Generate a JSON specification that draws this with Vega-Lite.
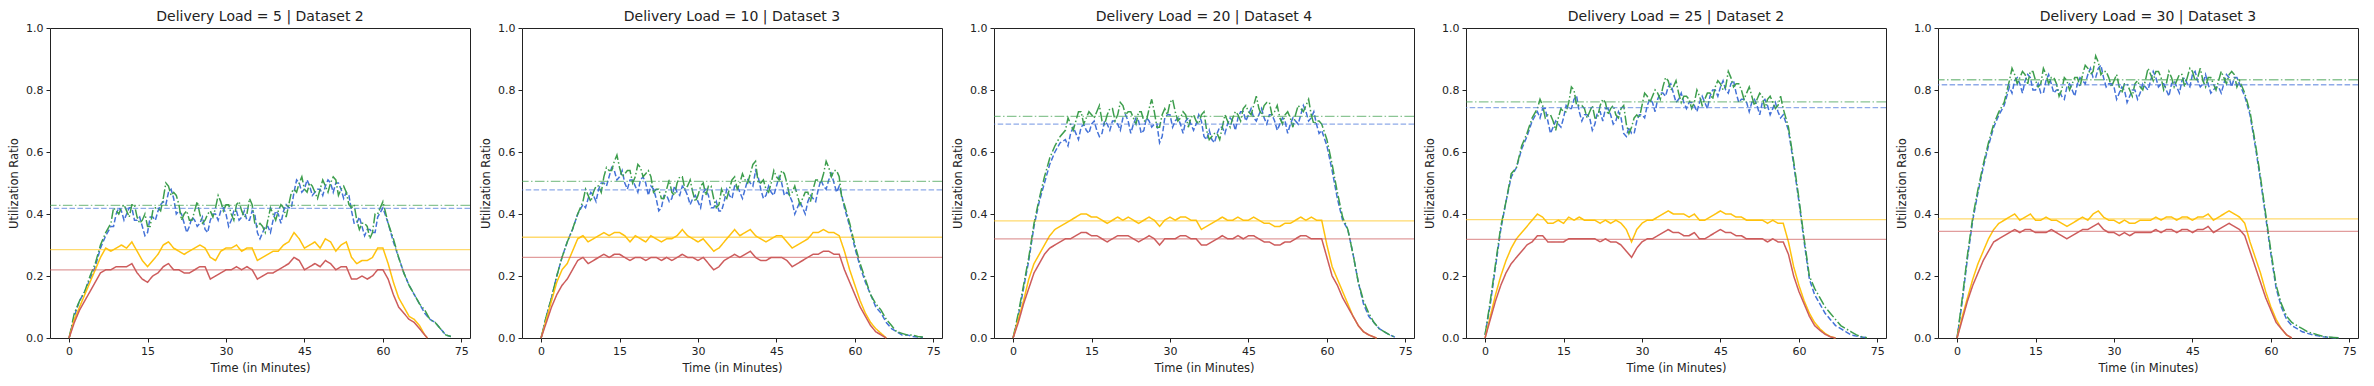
{
"$schema":"https://vega.github.io/schema/vega-lite/v6.json",
"background":"white",
"padding":{"left":8,"top":9,"right":0,"bottom":0},
"bounds":"flush",
"spacing":52,
"config":{
 "view":{"stroke":"#222","strokeWidth":1},
 "axis":{"domain":false,"grid":false,"tickColor":"#222","tickSize":4,"labelFont":"DejaVu Sans","labelFontSize":11,"labelColor":"#222","titleFont":"DejaVu Sans","titleFontSize":11.5,"titleFontWeight":"normal","titleColor":"#222","labelPadding":3,"labelFlush":false,"titlePadding":6},
 "title":{"font":"DejaVu Sans","fontSize":14,"fontWeight":"normal","color":"#222","offset":-2,"frame":"group"}
},
"datasets":{
"m1":[{"s":"b","v":0.418},{"s":"g","v":0.428},{"s":"y","v":0.285},{"s":"r","v":0.22}],
"m2":[{"s":"b","v":0.478},{"s":"g","v":0.505},{"s":"y","v":0.325},{"s":"r","v":0.26}],
"m3":[{"s":"b","v":0.69},{"s":"g","v":0.715},{"s":"y","v":0.378},{"s":"r","v":0.32}],
"m4":[{"s":"b","v":0.743},{"s":"g","v":0.762},{"s":"y","v":0.382},{"s":"r","v":0.318}],
"m5":[{"s":"b","v":0.817},{"s":"g","v":0.833},{"s":"y","v":0.384},{"s":"r","v":0.344}],
"p1":[
{"t":0,"b":0,"g":0,"y":0,"r":0},{"t":1,"b":0.07,"g":0.08,"y":0.06,"r":0.05},{"t":2,"b":0.12,"g":0.12,"y":0.10,"r":0.09},{"t":3,"b":0.15,"g":0.15,"y":0.14,"r":0.12},{"t":4,"b":0.19,"g":0.20,"y":0.18,"r":0.15},{"t":5,"b":0.23,"g":0.24,"y":0.22,"r":0.18},{"t":6,"b":0.29,"g":0.30,"y":0.26,"r":0.21},{"t":7,"b":0.33,"g":0.34,"y":0.29,"r":0.22},{"t":8,"b":0.36,"g":0.37,"y":0.28,"r":0.22},{"t":9,"b":0.40,"g":0.41,"y":0.29,"r":0.23},
{"t":10,"b":0.41,"g":0.42,"y":0.30,"r":0.23},{"t":11,"b":0.40,"g":0.41,"y":0.29,"r":0.23},{"t":12,"b":0.42,"g":0.43,"y":0.31,"r":0.24},{"t":13,"b":0.38,"g":0.39,"y":0.28,"r":0.21},{"t":14,"b":0.36,"g":0.38,"y":0.25,"r":0.19},{"t":15,"b":0.34,"g":0.36,"y":0.23,"r":0.18},{"t":16,"b":0.39,"g":0.41,"y":0.25,"r":0.20},{"t":17,"b":0.41,"g":0.42,"y":0.27,"r":0.21},{"t":18,"b":0.44,"g":0.45,"y":0.30,"r":0.23},{"t":19,"b":0.47,"g":0.49,"y":0.31,"r":0.24},
{"t":20,"b":0.45,"g":0.47,"y":0.29,"r":0.22},{"t":21,"b":0.41,"g":0.43,"y":0.28,"r":0.22},{"t":22,"b":0.37,"g":0.40,"y":0.27,"r":0.21},{"t":23,"b":0.36,"g":0.38,"y":0.28,"r":0.21},{"t":24,"b":0.38,"g":0.41,"y":0.29,"r":0.22},{"t":25,"b":0.37,"g":0.40,"y":0.30,"r":0.23},{"t":26,"b":0.35,"g":0.38,"y":0.29,"r":0.23},{"t":27,"b":0.38,"g":0.41,"y":0.26,"r":0.19},{"t":28,"b":0.40,"g":0.42,"y":0.25,"r":0.20},{"t":29,"b":0.41,"g":0.44,"y":0.28,"r":0.21},
{"t":30,"b":0.40,"g":0.43,"y":0.29,"r":0.22},{"t":31,"b":0.38,"g":0.40,"y":0.29,"r":0.22},{"t":32,"b":0.41,"g":0.43,"y":0.30,"r":0.23},{"t":33,"b":0.39,"g":0.41,"y":0.28,"r":0.22},{"t":34,"b":0.38,"g":0.40,"y":0.29,"r":0.23},{"t":35,"b":0.41,"g":0.43,"y":0.29,"r":0.22},{"t":36,"b":0.34,"g":0.36,"y":0.25,"r":0.19},{"t":37,"b":0.34,"g":0.36,"y":0.26,"r":0.20},{"t":38,"b":0.36,"g":0.38,"y":0.27,"r":0.21},{"t":39,"b":0.38,"g":0.40,"y":0.28,"r":0.21},
{"t":40,"b":0.40,"g":0.41,"y":0.28,"r":0.22},{"t":41,"b":0.41,"g":0.42,"y":0.30,"r":0.23},{"t":42,"b":0.42,"g":0.43,"y":0.31,"r":0.24},{"t":43,"b":0.47,"g":0.48,"y":0.34,"r":0.26},{"t":44,"b":0.50,"g":0.50,"y":0.32,"r":0.25},{"t":45,"b":0.48,"g":0.48,"y":0.29,"r":0.22},{"t":46,"b":0.49,"g":0.50,"y":0.30,"r":0.23},{"t":47,"b":0.47,"g":0.47,"y":0.31,"r":0.24},{"t":48,"b":0.48,"g":0.48,"y":0.29,"r":0.23},{"t":49,"b":0.49,"g":0.49,"y":0.32,"r":0.25},
{"t":50,"b":0.50,"g":0.50,"y":0.31,"r":0.24},{"t":51,"b":0.50,"g":0.51,"y":0.28,"r":0.22},{"t":52,"b":0.48,"g":0.48,"y":0.30,"r":0.23},{"t":53,"b":0.47,"g":0.47,"y":0.31,"r":0.23},{"t":54,"b":0.41,"g":0.42,"y":0.26,"r":0.19},{"t":55,"b":0.37,"g":0.38,"y":0.24,"r":0.19},{"t":56,"b":0.36,"g":0.37,"y":0.25,"r":0.20},{"t":57,"b":0.35,"g":0.36,"y":0.25,"r":0.19},{"t":58,"b":0.34,"g":0.34,"y":0.26,"r":0.20},{"t":59,"b":0.39,"g":0.40,"y":0.29,"r":0.22},
{"t":60,"b":0.42,"g":0.44,"y":0.29,"r":0.22},{"t":61,"b":0.37,"g":0.37,"y":0.24,"r":0.19},{"t":62,"b":0.31,"g":0.32,"y":0.18,"r":0.14},{"t":63,"b":0.26,"g":0.26,"y":0.13,"r":0.10},{"t":64,"b":0.21,"g":0.21,"y":0.10,"r":0.08},{"t":65,"b":0.17,"g":0.17,"y":0.07,"r":0.06},{"t":66,"b":0.14,"g":0.14,"y":0.06,"r":0.05},{"t":67,"b":0.11,"g":0.11,"y":0.04,"r":0.03},{"t":68,"b":0.08,"g":0.09,"y":0.01,"r":0.01},{"t":68.5,"y":0,"r":0},{"t":69,"b":0.06,"g":0.06},
{"t":70,"b":0.05,"g":0.05},{"t":71,"b":0.03,"g":0.03},{"t":72,"b":0.01,"g":0.01},{"t":73,"b":0.005,"g":0.005},
{"t":8.5,"b":0.36,"g":0.42},{"t":9.5,"b":0.42,"g":0.40},{"t":10.5,"b":0.38,"g":0.43},{"t":11.5,"b":0.42,"g":0.39},{"t":12.5,"b":0.38,"g":0.43},{"t":13.5,"b":0.39,"g":0.37},{"t":14.5,"b":0.33,"g":0.40},{"t":15.5,"b":0.39,"g":0.36},{"t":16.5,"b":0.38,"g":0.42},{"t":17.5,"b":0.43,"g":0.41},
{"t":18.5,"b":0.43,"g":0.50},{"t":19.5,"b":0.48,"g":0.46},{"t":20.5,"b":0.40,"g":0.46},{"t":21.5,"b":0.40,"g":0.38},{"t":22.5,"b":0.34,"g":0.41},{"t":23.5,"b":0.39,"g":0.38},{"t":24.5,"b":0.36,"g":0.44},{"t":25.5,"b":0.39,"g":0.37},{"t":26.5,"b":0.34,"g":0.40},{"t":27.5,"b":0.40,"g":0.39},
{"t":28.5,"b":0.38,"g":0.46},{"t":29.5,"b":0.42,"g":0.41},{"t":30.5,"b":0.36,"g":0.43},{"t":31.5,"b":0.41,"g":0.38},{"t":32.5,"b":0.38,"g":0.44},{"t":33.5,"b":0.41,"g":0.39},{"t":34.5,"b":0.38,"g":0.45},{"t":35.5,"b":0.40,"g":0.37},{"t":36.5,"b":0.32,"g":0.37},{"t":37.5,"b":0.36,"g":0.34},
{"t":38.5,"b":0.34,"g":0.42},{"t":39.5,"b":0.41,"g":0.38},{"t":40.5,"b":0.37,"g":0.43},{"t":41.5,"b":0.43,"g":0.39},{"t":42.5,"b":0.42,"g":0.47},{"t":43.5,"b":0.51,"g":0.47},{"t":44.5,"b":0.47,"g":0.52},{"t":45.5,"b":0.51,"g":0.47},{"t":46.5,"b":0.46,"g":0.49},{"t":47.5,"b":0.48,"g":0.45},
{"t":48.5,"b":0.46,"g":0.51},{"t":49.5,"b":0.51,"g":0.47},{"t":50.5,"b":0.47,"g":0.52},{"t":51.5,"b":0.50,"g":0.46},{"t":52.5,"b":0.45,"g":0.49},{"t":53.5,"b":0.46,"g":0.43},{"t":54.5,"b":0.37,"g":0.43},{"t":55.5,"b":0.39,"g":0.35},{"t":56.5,"b":0.33,"g":0.37},{"t":57.5,"b":0.35,"g":0.32},{"t":58.5,"b":0.34,"g":0.40}],
"p2":[
{"t":0,"b":0,"g":0,"y":0,"r":0},{"t":1,"b":0.07,"g":0.07,"y":0.06,"r":0.05},{"t":2,"b":0.13,"g":0.13,"y":0.12,"r":0.10},{"t":3,"b":0.20,"g":0.20,"y":0.18,"r":0.14},{"t":4,"b":0.26,"g":0.26,"y":0.22,"r":0.17},{"t":5,"b":0.31,"g":0.31,"y":0.24,"r":0.19},{"t":6,"b":0.35,"g":0.35,"y":0.28,"r":0.22},{"t":7,"b":0.40,"g":0.40,"y":0.32,"r":0.25},{"t":8,"b":0.43,"g":0.44,"y":0.33,"r":0.26},{"t":9,"b":0.45,"g":0.46,"y":0.31,"r":0.24},
{"t":10,"b":0.46,"g":0.47,"y":0.32,"r":0.25},{"t":11,"b":0.48,"g":0.49,"y":0.33,"r":0.26},{"t":12,"b":0.50,"g":0.52,"y":0.34,"r":0.27},{"t":13,"b":0.52,"g":0.54,"y":0.33,"r":0.26},{"t":14,"b":0.54,"g":0.57,"y":0.34,"r":0.27},{"t":15,"b":0.52,"g":0.55,"y":0.34,"r":0.27},{"t":16,"b":0.50,"g":0.53,"y":0.33,"r":0.26},{"t":17,"b":0.51,"g":0.54,"y":0.31,"r":0.25},{"t":18,"b":0.49,"g":0.52,"y":0.33,"r":0.26},{"t":19,"b":0.51,"g":0.55,"y":0.32,"r":0.26},
{"t":20,"b":0.50,"g":0.53,"y":0.31,"r":0.25},{"t":21,"b":0.49,"g":0.52,"y":0.33,"r":0.26},{"t":22,"b":0.45,"g":0.48,"y":0.32,"r":0.26},{"t":23,"b":0.42,"g":0.45,"y":0.31,"r":0.25},{"t":24,"b":0.46,"g":0.48,"y":0.32,"r":0.26},{"t":25,"b":0.45,"g":0.47,"y":0.32,"r":0.25},{"t":26,"b":0.47,"g":0.50,"y":0.33,"r":0.26},{"t":27,"b":0.49,"g":0.52,"y":0.35,"r":0.27},{"t":28,"b":0.46,"g":0.49,"y":0.33,"r":0.26},{"t":29,"b":0.45,"g":0.47,"y":0.32,"r":0.26},
{"t":30,"b":0.44,"g":0.46,"y":0.31,"r":0.25},{"t":31,"b":0.47,"g":0.50,"y":0.32,"r":0.26},{"t":32,"b":0.46,"g":0.49,"y":0.30,"r":0.24},{"t":33,"b":0.42,"g":0.45,"y":0.28,"r":0.22},{"t":34,"b":0.41,"g":0.43,"y":0.29,"r":0.23},{"t":35,"b":0.44,"g":0.46,"y":0.31,"r":0.25},{"t":36,"b":0.46,"g":0.48,"y":0.33,"r":0.26},{"t":37,"b":0.49,"g":0.52,"y":0.35,"r":0.27},{"t":38,"b":0.47,"g":0.50,"y":0.33,"r":0.26},{"t":39,"b":0.48,"g":0.51,"y":0.34,"r":0.27},
{"t":40,"b":0.50,"g":0.53,"y":0.35,"r":0.28},{"t":41,"b":0.54,"g":0.57,"y":0.33,"r":0.26},{"t":42,"b":0.48,"g":0.50,"y":0.32,"r":0.25},{"t":43,"b":0.46,"g":0.48,"y":0.31,"r":0.25},{"t":44,"b":0.47,"g":0.50,"y":0.32,"r":0.26},{"t":45,"b":0.49,"g":0.52,"y":0.33,"r":0.26},{"t":46,"b":0.50,"g":0.54,"y":0.33,"r":0.26},{"t":47,"b":0.47,"g":0.50,"y":0.31,"r":0.25},{"t":48,"b":0.44,"g":0.47,"y":0.29,"r":0.23},{"t":49,"b":0.42,"g":0.46,"y":0.30,"r":0.24},
{"t":50,"b":0.42,"g":0.45,"y":0.31,"r":0.25},{"t":51,"b":0.44,"g":0.47,"y":0.32,"r":0.26},{"t":52,"b":0.45,"g":0.48,"y":0.34,"r":0.27},{"t":53,"b":0.48,"g":0.51,"y":0.34,"r":0.27},{"t":54,"b":0.49,"g":0.53,"y":0.35,"r":0.28},{"t":55,"b":0.51,"g":0.55,"y":0.34,"r":0.28},{"t":56,"b":0.50,"g":0.54,"y":0.34,"r":0.27},{"t":57,"b":0.49,"g":0.52,"y":0.33,"r":0.27},{"t":58,"b":0.42,"g":0.43,"y":0.28,"r":0.22},{"t":59,"b":0.36,"g":0.37,"y":0.22,"r":0.18},
{"t":60,"b":0.29,"g":0.30,"y":0.17,"r":0.14},{"t":61,"b":0.23,"g":0.24,"y":0.12,"r":0.10},{"t":62,"b":0.18,"g":0.19,"y":0.08,"r":0.07},{"t":63,"b":0.14,"g":0.14,"y":0.05,"r":0.04},{"t":64,"b":0.10,"g":0.11,"y":0.03,"r":0.02},{"t":65,"b":0.08,"g":0.09,"y":0.015,"r":0.01},{"t":66,"b":0.05,"g":0.06,"y":0,"r":0},{"t":67,"b":0.03,"g":0.04},{"t":68,"b":0.02,"g":0.02},{"t":69,"b":0.01,"g":0.015},
{"t":70,"b":0.01,"g":0.01},{"t":71,"b":0.005,"g":0.01},{"t":72,"b":0.003,"g":0.005},{"t":73,"b":0.002,"g":0.003},
{"t":8.5,"b":0.42,"g":0.48},{"t":9.5,"b":0.47,"g":0.44},{"t":10.5,"b":0.44,"g":0.49},{"t":11.5,"b":0.50,"g":0.47},{"t":12.5,"b":0.49,"g":0.55},{"t":13.5,"b":0.55,"g":0.54},{"t":14.5,"b":0.51,"g":0.59},{"t":15.5,"b":0.54,"g":0.52},{"t":16.5,"b":0.48,"g":0.54},{"t":17.5,"b":0.51,"g":0.50},
{"t":18.5,"b":0.47,"g":0.56},{"t":19.5,"b":0.52,"g":0.52},{"t":20.5,"b":0.46,"g":0.54},{"t":21.5,"b":0.48,"g":0.47},{"t":22.5,"b":0.41,"g":0.48},{"t":23.5,"b":0.46,"g":0.45},{"t":24.5,"b":0.44,"g":0.51},{"t":25.5,"b":0.49,"g":0.46},{"t":26.5,"b":0.46,"g":0.52},{"t":27.5,"b":0.48,"g":0.48},
{"t":28.5,"b":0.43,"g":0.51},{"t":29.5,"b":0.46,"g":0.44},{"t":30.5,"b":0.42,"g":0.49},{"t":31.5,"b":0.48,"g":0.46},{"t":32.5,"b":0.42,"g":0.49},{"t":33.5,"b":0.44,"g":0.42},{"t":34.5,"b":0.41,"g":0.48},{"t":35.5,"b":0.48,"g":0.45},{"t":36.5,"b":0.45,"g":0.51},{"t":37.5,"b":0.49,"g":0.48},
{"t":38.5,"b":0.45,"g":0.53},{"t":39.5,"b":0.51,"g":0.50},{"t":40.5,"b":0.49,"g":0.56},{"t":41.5,"b":0.52,"g":0.50},{"t":42.5,"b":0.45,"g":0.51},{"t":43.5,"b":0.49,"g":0.47},{"t":44.5,"b":0.46,"g":0.54},{"t":45.5,"b":0.52,"g":0.51},{"t":46.5,"b":0.46,"g":0.53},{"t":47.5,"b":0.46,"g":0.46},
{"t":48.5,"b":0.40,"g":0.49},{"t":49.5,"b":0.44,"g":0.43},{"t":50.5,"b":0.40,"g":0.47},{"t":51.5,"b":0.46,"g":0.44},{"t":52.5,"b":0.44,"g":0.51},{"t":53.5,"b":0.51,"g":0.50},{"t":54.5,"b":0.48,"g":0.57},{"t":55.5,"b":0.53,"g":0.52},{"t":56.5,"b":0.47,"g":0.54},{"t":57.5,"b":0.46,"g":0.45}],
"p3":[
{"t":0,"b":0,"g":0,"y":0,"r":0},{"t":1,"b":0.07,"g":0.08,"y":0.06,"r":0.05},{"t":2,"b":0.16,"g":0.17,"y":0.12,"r":0.11},{"t":3,"b":0.25,"g":0.26,"y":0.19,"r":0.16},{"t":4,"b":0.36,"g":0.37,"y":0.24,"r":0.21},{"t":5,"b":0.44,"g":0.45,"y":0.27,"r":0.24},{"t":6,"b":0.50,"g":0.52,"y":0.30,"r":0.27},{"t":7,"b":0.56,"g":0.58,"y":0.33,"r":0.29},{"t":8,"b":0.60,"g":0.62,"y":0.35,"r":0.30},{"t":9,"b":0.63,"g":0.65,"y":0.36,"r":0.31},
{"t":10,"b":0.64,"g":0.67,"y":0.37,"r":0.32},{"t":11,"b":0.66,"g":0.69,"y":0.38,"r":0.32},{"t":12,"b":0.66,"g":0.70,"y":0.39,"r":0.33},{"t":13,"b":0.68,"g":0.73,"y":0.40,"r":0.34},{"t":14,"b":0.67,"g":0.71,"y":0.40,"r":0.34},{"t":15,"b":0.69,"g":0.72,"y":0.39,"r":0.33},{"t":16,"b":0.67,"g":0.73,"y":0.39,"r":0.33},{"t":17,"b":0.66,"g":0.70,"y":0.38,"r":0.32},{"t":18,"b":0.69,"g":0.72,"y":0.37,"r":0.31},{"t":19,"b":0.70,"g":0.74,"y":0.38,"r":0.32},
{"t":20,"b":0.69,"g":0.72,"y":0.39,"r":0.33},{"t":21,"b":0.71,"g":0.75,"y":0.38,"r":0.33},{"t":22,"b":0.70,"g":0.73,"y":0.39,"r":0.33},{"t":23,"b":0.69,"g":0.71,"y":0.38,"r":0.32},{"t":24,"b":0.70,"g":0.73,"y":0.37,"r":0.31},{"t":25,"b":0.67,"g":0.70,"y":0.38,"r":0.32},{"t":26,"b":0.70,"g":0.74,"y":0.39,"r":0.33},{"t":27,"b":0.69,"g":0.73,"y":0.38,"r":0.32},{"t":28,"b":0.63,"g":0.68,"y":0.36,"r":0.30},{"t":29,"b":0.71,"g":0.74,"y":0.38,"r":0.32},
{"t":30,"b":0.72,"g":0.76,"y":0.39,"r":0.32},{"t":31,"b":0.70,"g":0.73,"y":0.38,"r":0.32},{"t":32,"b":0.69,"g":0.71,"y":0.39,"r":0.33},{"t":33,"b":0.70,"g":0.72,"y":0.39,"r":0.33},{"t":34,"b":0.69,"g":0.71,"y":0.38,"r":0.32},{"t":35,"b":0.69,"g":0.70,"y":0.38,"r":0.32},{"t":36,"b":0.70,"g":0.72,"y":0.35,"r":0.30},{"t":37,"b":0.64,"g":0.67,"y":0.36,"r":0.30},{"t":38,"b":0.64,"g":0.65,"y":0.37,"r":0.31},{"t":39,"b":0.66,"g":0.66,"y":0.38,"r":0.32},
{"t":40,"b":0.68,"g":0.68,"y":0.39,"r":0.33},{"t":41,"b":0.69,"g":0.70,"y":0.38,"r":0.32},{"t":42,"b":0.70,"g":0.71,"y":0.38,"r":0.32},{"t":43,"b":0.71,"g":0.72,"y":0.39,"r":0.33},{"t":44,"b":0.73,"g":0.74,"y":0.38,"r":0.32},{"t":45,"b":0.72,"g":0.73,"y":0.38,"r":0.33},{"t":46,"b":0.71,"g":0.75,"y":0.39,"r":0.33},{"t":47,"b":0.72,"g":0.74,"y":0.38,"r":0.32},{"t":48,"b":0.71,"g":0.75,"y":0.37,"r":0.31},{"t":49,"b":0.72,"g":0.76,"y":0.37,"r":0.31},
{"t":50,"b":0.70,"g":0.73,"y":0.36,"r":0.30},{"t":51,"b":0.69,"g":0.71,"y":0.36,"r":0.30},{"t":52,"b":0.70,"g":0.72,"y":0.37,"r":0.31},{"t":53,"b":0.69,"g":0.71,"y":0.37,"r":0.31},{"t":54,"b":0.70,"g":0.72,"y":0.38,"r":0.32},{"t":55,"b":0.72,"g":0.74,"y":0.39,"r":0.33},{"t":56,"b":0.73,"g":0.75,"y":0.38,"r":0.33},{"t":57,"b":0.71,"g":0.72,"y":0.39,"r":0.32},{"t":58,"b":0.69,"g":0.70,"y":0.38,"r":0.32},{"t":59,"b":0.67,"g":0.69,"y":0.38,"r":0.32},
{"t":60,"b":0.62,"g":0.64,"y":0.30,"r":0.26},{"t":61,"b":0.54,"g":0.56,"y":0.23,"r":0.20},{"t":62,"b":0.45,"g":0.47,"y":0.19,"r":0.17},{"t":63,"b":0.38,"g":0.39,"y":0.15,"r":0.13},{"t":64,"b":0.35,"g":0.35,"y":0.11,"r":0.10},{"t":65,"b":0.27,"g":0.27,"y":0.07,"r":0.07},{"t":66,"b":0.18,"g":0.18,"y":0.04,"r":0.04},{"t":67,"b":0.11,"g":0.12,"y":0.02,"r":0.02},{"t":68,"b":0.07,"g":0.08,"y":0.01,"r":0.01},{"t":69,"b":0.05,"g":0.05,"y":0.003,"r":0.003},{"t":69.5,"y":0,"r":0},
{"t":70,"b":0.03,"g":0.03},{"t":71,"b":0.02,"g":0.02},{"t":72,"b":0.01,"g":0.01},{"t":73,"b":0.003,"g":0.003},
{"t":10.5,"b":0.62,"g":0.71},{"t":11.5,"b":0.68,"g":0.67},{"t":12.5,"b":0.64,"g":0.73},{"t":13.5,"b":0.69,"g":0.69},{"t":14.5,"b":0.66,"g":0.73},{"t":15.5,"b":0.70,"g":0.71},{"t":16.5,"b":0.65,"g":0.75},{"t":17.5,"b":0.70,"g":0.69},{"t":18.5,"b":0.67,"g":0.74},{"t":19.5,"b":0.70,"g":0.70},
{"t":20.5,"b":0.67,"g":0.76},{"t":21.5,"b":0.72,"g":0.72},{"t":22.5,"b":0.66,"g":0.73},{"t":23.5,"b":0.71,"g":0.69},{"t":24.5,"b":0.66,"g":0.73},{"t":25.5,"b":0.71,"g":0.70},{"t":26.5,"b":0.68,"g":0.77},{"t":27.5,"b":0.69,"g":0.68},{"t":28.5,"b":0.65,"g":0.72},{"t":29.5,"b":0.72,"g":0.72},
{"t":30.5,"b":0.68,"g":0.77},{"t":31.5,"b":0.71,"g":0.70},{"t":32.5,"b":0.66,"g":0.73},{"t":33.5,"b":0.71,"g":0.68},{"t":34.5,"b":0.67,"g":0.72},{"t":35.5,"b":0.72,"g":0.69},{"t":36.5,"b":0.65,"g":0.73},{"t":37.5,"b":0.67,"g":0.64},{"t":38.5,"b":0.63,"g":0.66},{"t":39.5,"b":0.68,"g":0.64},
{"t":40.5,"b":0.66,"g":0.72},{"t":41.5,"b":0.71,"g":0.68},{"t":42.5,"b":0.67,"g":0.73},{"t":43.5,"b":0.73,"g":0.70},{"t":44.5,"b":0.70,"g":0.75},{"t":45.5,"b":0.74,"g":0.72},{"t":46.5,"b":0.70,"g":0.78},{"t":47.5,"b":0.74,"g":0.72},{"t":48.5,"b":0.69,"g":0.76},{"t":49.5,"b":0.72,"g":0.72},
{"t":50.5,"b":0.67,"g":0.75},{"t":51.5,"b":0.71,"g":0.69},{"t":52.5,"b":0.66,"g":0.73},{"t":53.5,"b":0.71,"g":0.68},{"t":54.5,"b":0.69,"g":0.75},{"t":55.5,"b":0.75,"g":0.73},{"t":56.5,"b":0.70,"g":0.77},{"t":57.5,"b":0.73,"g":0.69},{"t":58.5,"b":0.66,"g":0.70}],
"p4":[
{"t":0,"b":0.01,"g":0.01,"y":0,"r":0},{"t":1,"b":0.11,"g":0.12,"y":0.07,"r":0.06},{"t":2,"b":0.23,"g":0.24,"y":0.14,"r":0.12},{"t":3,"b":0.35,"g":0.36,"y":0.20,"r":0.17},{"t":4,"b":0.44,"g":0.44,"y":0.25,"r":0.21},{"t":5,"b":0.52,"g":0.53,"y":0.29,"r":0.24},{"t":6,"b":0.55,"g":0.55,"y":0.32,"r":0.26},{"t":7,"b":0.61,"g":0.62,"y":0.34,"r":0.28},{"t":8,"b":0.65,"g":0.66,"y":0.36,"r":0.30},{"t":9,"b":0.70,"g":0.71,"y":0.38,"r":0.31},
{"t":10,"b":0.73,"g":0.74,"y":0.40,"r":0.33},{"t":11,"b":0.74,"g":0.75,"y":0.39,"r":0.33},{"t":12,"b":0.70,"g":0.72,"y":0.37,"r":0.31},{"t":13,"b":0.68,"g":0.70,"y":0.37,"r":0.31},{"t":14,"b":0.69,"g":0.71,"y":0.38,"r":0.31},{"t":15,"b":0.71,"g":0.73,"y":0.37,"r":0.31},{"t":16,"b":0.74,"g":0.76,"y":0.39,"r":0.32},{"t":17,"b":0.77,"g":0.80,"y":0.38,"r":0.32},{"t":18,"b":0.73,"g":0.75,"y":0.39,"r":0.32},{"t":19,"b":0.72,"g":0.74,"y":0.38,"r":0.32},
{"t":20,"b":0.71,"g":0.73,"y":0.38,"r":0.32},{"t":21,"b":0.69,"g":0.71,"y":0.38,"r":0.32},{"t":22,"b":0.73,"g":0.75,"y":0.37,"r":0.31},{"t":23,"b":0.74,"g":0.76,"y":0.38,"r":0.32},{"t":24,"b":0.72,"g":0.74,"y":0.37,"r":0.31},{"t":25,"b":0.70,"g":0.72,"y":0.38,"r":0.31},{"t":26,"b":0.71,"g":0.74,"y":0.37,"r":0.30},{"t":27,"b":0.65,"g":0.69,"y":0.35,"r":0.28},{"t":28,"b":0.66,"g":0.68,"y":0.31,"r":0.26},{"t":29,"b":0.70,"g":0.72,"y":0.35,"r":0.29},
{"t":30,"b":0.72,"g":0.75,"y":0.37,"r":0.31},{"t":31,"b":0.75,"g":0.78,"y":0.38,"r":0.32},{"t":32,"b":0.76,"g":0.78,"y":0.38,"r":0.32},{"t":33,"b":0.77,"g":0.79,"y":0.39,"r":0.33},{"t":34,"b":0.79,"g":0.81,"y":0.40,"r":0.34},{"t":35,"b":0.81,"g":0.83,"y":0.41,"r":0.35},{"t":36,"b":0.79,"g":0.81,"y":0.40,"r":0.34},{"t":37,"b":0.77,"g":0.79,"y":0.40,"r":0.34},{"t":38,"b":0.76,"g":0.78,"y":0.40,"r":0.33},{"t":39,"b":0.76,"g":0.77,"y":0.39,"r":0.33},
{"t":40,"b":0.75,"g":0.76,"y":0.40,"r":0.34},{"t":41,"b":0.76,"g":0.78,"y":0.38,"r":0.32},{"t":42,"b":0.76,"g":0.77,"y":0.38,"r":0.32},{"t":43,"b":0.78,"g":0.79,"y":0.39,"r":0.33},{"t":44,"b":0.80,"g":0.81,"y":0.40,"r":0.34},{"t":45,"b":0.81,"g":0.82,"y":0.41,"r":0.35},{"t":46,"b":0.80,"g":0.81,"y":0.40,"r":0.34},{"t":47,"b":0.82,"g":0.84,"y":0.40,"r":0.34},{"t":48,"b":0.79,"g":0.82,"y":0.39,"r":0.33},{"t":49,"b":0.77,"g":0.80,"y":0.39,"r":0.33},
{"t":50,"b":0.76,"g":0.79,"y":0.38,"r":0.32},{"t":51,"b":0.76,"g":0.78,"y":0.38,"r":0.32},{"t":52,"b":0.75,"g":0.77,"y":0.38,"r":0.32},{"t":53,"b":0.76,"g":0.78,"y":0.38,"r":0.32},{"t":54,"b":0.75,"g":0.77,"y":0.37,"r":0.31},{"t":55,"b":0.74,"g":0.76,"y":0.38,"r":0.32},{"t":56,"b":0.73,"g":0.75,"y":0.37,"r":0.31},{"t":57,"b":0.72,"g":0.74,"y":0.37,"r":0.31},{"t":58,"b":0.67,"g":0.68,"y":0.31,"r":0.27},{"t":59,"b":0.56,"g":0.57,"y":0.23,"r":0.20},
{"t":60,"b":0.44,"g":0.45,"y":0.17,"r":0.15},{"t":61,"b":0.31,"g":0.32,"y":0.12,"r":0.11},{"t":62,"b":0.19,"g":0.20,"y":0.08,"r":0.07},{"t":63,"b":0.14,"g":0.16,"y":0.05,"r":0.04},{"t":64,"b":0.11,"g":0.13,"y":0.03,"r":0.025},{"t":65,"b":0.08,"g":0.10,"y":0.015,"r":0.012},{"t":66,"b":0.06,"g":0.08,"y":0.005,"r":0.004},{"t":67,"b":0.04,"g":0.06,"y":0,"r":0},{"t":68,"b":0.03,"g":0.04},{"t":69,"b":0.02,"g":0.03},
{"t":70,"b":0.01,"g":0.02},{"t":71,"b":0.006,"g":0.01},{"t":72,"b":0.003,"g":0.004},{"t":73,"b":0.001,"g":0.001},
{"t":10.5,"b":0.71,"g":0.77},{"t":11.5,"b":0.74,"g":0.71},{"t":12.5,"b":0.66,"g":0.72},{"t":13.5,"b":0.70,"g":0.67},{"t":14.5,"b":0.68,"g":0.74},{"t":15.5,"b":0.75,"g":0.73},{"t":16.5,"b":0.74,"g":0.81},{"t":17.5,"b":0.78,"g":0.75},{"t":18.5,"b":0.70,"g":0.75},{"t":19.5,"b":0.72,"g":0.71},
{"t":20.5,"b":0.67,"g":0.75},{"t":21.5,"b":0.73,"g":0.71},{"t":22.5,"b":0.70,"g":0.77},{"t":23.5,"b":0.74,"g":0.72},{"t":24.5,"b":0.69,"g":0.75},{"t":25.5,"b":0.73,"g":0.71},{"t":26.5,"b":0.66,"g":0.75},{"t":27.5,"b":0.68,"g":0.66},{"t":28.5,"b":0.66,"g":0.71},{"t":29.5,"b":0.72,"g":0.71},
{"t":30.5,"b":0.71,"g":0.79},{"t":31.5,"b":0.77,"g":0.76},{"t":32.5,"b":0.73,"g":0.80},{"t":33.5,"b":0.79,"g":0.77},{"t":34.5,"b":0.78,"g":0.84},{"t":35.5,"b":0.82,"g":0.80},{"t":36.5,"b":0.76,"g":0.83},{"t":37.5,"b":0.79,"g":0.76},{"t":38.5,"b":0.74,"g":0.78},{"t":39.5,"b":0.76,"g":0.74},
{"t":40.5,"b":0.73,"g":0.80},{"t":41.5,"b":0.78,"g":0.75},{"t":42.5,"b":0.74,"g":0.79},{"t":43.5,"b":0.80,"g":0.77},{"t":44.5,"b":0.78,"g":0.83},{"t":45.5,"b":0.83,"g":0.80},{"t":46.5,"b":0.79,"g":0.86},{"t":47.5,"b":0.83,"g":0.81},{"t":48.5,"b":0.76,"g":0.82},{"t":49.5,"b":0.77,"g":0.77},
{"t":50.5,"b":0.73,"g":0.81},{"t":51.5,"b":0.77,"g":0.75},{"t":52.5,"b":0.72,"g":0.79},{"t":53.5,"b":0.77,"g":0.74},{"t":54.5,"b":0.72,"g":0.78},{"t":55.5,"b":0.76,"g":0.74},{"t":56.5,"b":0.71,"g":0.78}],
"p5":[
{"t":0,"b":0,"g":0,"y":0,"r":0},{"t":1,"b":0.12,"g":0.13,"y":0.07,"r":0.06},{"t":2,"b":0.26,"g":0.27,"y":0.13,"r":0.12},{"t":3,"b":0.38,"g":0.39,"y":0.19,"r":0.17},{"t":4,"b":0.47,"g":0.48,"y":0.24,"r":0.21},{"t":5,"b":0.55,"g":0.56,"y":0.28,"r":0.25},{"t":6,"b":0.62,"g":0.63,"y":0.32,"r":0.28},{"t":7,"b":0.68,"g":0.69,"y":0.35,"r":0.31},{"t":8,"b":0.72,"g":0.73,"y":0.37,"r":0.32},{"t":9,"b":0.75,"g":0.76,"y":0.38,"r":0.33},
{"t":10,"b":0.81,"g":0.83,"y":0.39,"r":0.34},{"t":11,"b":0.83,"g":0.85,"y":0.40,"r":0.35},{"t":12,"b":0.82,"g":0.84,"y":0.38,"r":0.34},{"t":13,"b":0.83,"g":0.85,"y":0.39,"r":0.35},{"t":14,"b":0.84,"g":0.86,"y":0.40,"r":0.35},{"t":15,"b":0.80,"g":0.83,"y":0.38,"r":0.34},{"t":16,"b":0.79,"g":0.82,"y":0.38,"r":0.34},{"t":17,"b":0.83,"g":0.85,"y":0.39,"r":0.34},{"t":18,"b":0.82,"g":0.84,"y":0.38,"r":0.35},{"t":19,"b":0.80,"g":0.82,"y":0.38,"r":0.34},
{"t":20,"b":0.78,"g":0.80,"y":0.37,"r":0.33},{"t":21,"b":0.81,"g":0.83,"y":0.36,"r":0.32},{"t":22,"b":0.80,"g":0.82,"y":0.37,"r":0.33},{"t":23,"b":0.82,"g":0.84,"y":0.38,"r":0.34},{"t":24,"b":0.83,"g":0.85,"y":0.39,"r":0.35},{"t":25,"b":0.85,"g":0.87,"y":0.38,"r":0.35},{"t":26,"b":0.84,"g":0.86,"y":0.40,"r":0.36},{"t":27,"b":0.87,"g":0.89,"y":0.41,"r":0.37},{"t":28,"b":0.84,"g":0.86,"y":0.39,"r":0.35},{"t":29,"b":0.82,"g":0.84,"y":0.38,"r":0.34},
{"t":30,"b":0.81,"g":0.83,"y":0.38,"r":0.34},{"t":31,"b":0.79,"g":0.81,"y":0.37,"r":0.33},{"t":32,"b":0.80,"g":0.82,"y":0.38,"r":0.34},{"t":33,"b":0.78,"g":0.80,"y":0.37,"r":0.33},{"t":34,"b":0.80,"g":0.82,"y":0.37,"r":0.34},{"t":35,"b":0.79,"g":0.81,"y":0.38,"r":0.34},{"t":36,"b":0.81,"g":0.83,"y":0.38,"r":0.34},{"t":37,"b":0.83,"g":0.85,"y":0.38,"r":0.34},{"t":38,"b":0.84,"g":0.86,"y":0.39,"r":0.35},{"t":39,"b":0.82,"g":0.84,"y":0.38,"r":0.34},
{"t":40,"b":0.80,"g":0.82,"y":0.39,"r":0.35},{"t":41,"b":0.82,"g":0.84,"y":0.39,"r":0.35},{"t":42,"b":0.81,"g":0.83,"y":0.38,"r":0.34},{"t":43,"b":0.83,"g":0.85,"y":0.39,"r":0.35},{"t":44,"b":0.82,"g":0.84,"y":0.39,"r":0.35},{"t":45,"b":0.85,"g":0.86,"y":0.38,"r":0.34},{"t":46,"b":0.83,"g":0.84,"y":0.39,"r":0.35},{"t":47,"b":0.82,"g":0.83,"y":0.39,"r":0.35},{"t":48,"b":0.82,"g":0.84,"y":0.40,"r":0.36},{"t":49,"b":0.80,"g":0.82,"y":0.38,"r":0.34},
{"t":50,"b":0.81,"g":0.83,"y":0.39,"r":0.35},{"t":51,"b":0.82,"g":0.84,"y":0.40,"r":0.36},{"t":52,"b":0.84,"g":0.85,"y":0.41,"r":0.37},{"t":53,"b":0.84,"g":0.85,"y":0.40,"r":0.36},{"t":54,"b":0.82,"g":0.83,"y":0.39,"r":0.35},{"t":55,"b":0.78,"g":0.79,"y":0.37,"r":0.33},{"t":56,"b":0.72,"g":0.73,"y":0.31,"r":0.28},{"t":57,"b":0.62,"g":0.63,"y":0.26,"r":0.23},{"t":58,"b":0.51,"g":0.52,"y":0.21,"r":0.18},{"t":59,"b":0.39,"g":0.40,"y":0.15,"r":0.13},
{"t":60,"b":0.27,"g":0.28,"y":0.10,"r":0.09},{"t":61,"b":0.16,"g":0.17,"y":0.06,"r":0.05},{"t":62,"b":0.10,"g":0.11,"y":0.03,"r":0.03},{"t":63,"b":0.06,"g":0.07,"y":0.01,"r":0.01},{"t":64,"b":0.04,"g":0.05,"y":0,"r":0},{"t":65,"b":0.03,"g":0.04},{"t":66,"b":0.02,"g":0.03},{"t":67,"b":0.015,"g":0.02},{"t":68,"b":0.01,"g":0.015},{"t":69,"b":0.007,"g":0.01},
{"t":70,"b":0.004,"g":0.005},{"t":71,"b":0.002,"g":0.003},{"t":72,"b":0.001,"g":0.002},{"t":73,"b":0.001,"g":0.001},
{"t":10.5,"b":0.79,"g":0.87},{"t":11.5,"b":0.84,"g":0.82},{"t":12.5,"b":0.79,"g":0.86},{"t":13.5,"b":0.85,"g":0.82},{"t":14.5,"b":0.80,"g":0.86},{"t":15.5,"b":0.82,"g":0.81},{"t":16.5,"b":0.79,"g":0.87},{"t":17.5,"b":0.85,"g":0.82},{"t":18.5,"b":0.79,"g":0.84},{"t":19.5,"b":0.80,"g":0.78},
{"t":20.5,"b":0.77,"g":0.84},{"t":21.5,"b":0.82,"g":0.80},{"t":22.5,"b":0.78,"g":0.84},{"t":23.5,"b":0.84,"g":0.81},{"t":24.5,"b":0.82,"g":0.88},{"t":25.5,"b":0.87,"g":0.85},{"t":26.5,"b":0.84,"g":0.91},{"t":27.5,"b":0.88,"g":0.85},{"t":28.5,"b":0.81,"g":0.86},{"t":29.5,"b":0.82,"g":0.81},
{"t":30.5,"b":0.77,"g":0.85},{"t":31.5,"b":0.81,"g":0.79},{"t":32.5,"b":0.76,"g":0.82},{"t":33.5,"b":0.80,"g":0.78},{"t":34.5,"b":0.77,"g":0.83},{"t":35.5,"b":0.82,"g":0.80},{"t":36.5,"b":0.80,"g":0.87},{"t":37.5,"b":0.86,"g":0.83},{"t":38.5,"b":0.81,"g":0.86},{"t":39.5,"b":0.82,"g":0.80},
{"t":40.5,"b":0.78,"g":0.86},{"t":41.5,"b":0.83,"g":0.81},{"t":42.5,"b":0.79,"g":0.85},{"t":43.5,"b":0.84,"g":0.81},{"t":44.5,"b":0.81,"g":0.87},{"t":45.5,"b":0.86,"g":0.83},{"t":46.5,"b":0.81,"g":0.87},{"t":47.5,"b":0.85,"g":0.81},{"t":48.5,"b":0.79,"g":0.84},{"t":49.5,"b":0.81,"g":0.80},
{"t":50.5,"b":0.79,"g":0.86},{"t":51.5,"b":0.85,"g":0.82},{"t":52.5,"b":0.81,"g":0.86},{"t":53.5,"b":0.84,"g":0.81}]
},
"hconcat":[
{"title":"Delivery Load = 5 | Dataset 2","width":420,"height":310,"layer":[
 {"data":{"name":"p1"},"transform":[{"fold":["b","g","y","r"],"as":["s","v"]},{"filter":"datum.v != null"}],"mark":{"type":"line","strokeWidth":1.5},"encoding":{"x":{"field":"t","type":"quantitative","scale":{"domain":[-3.65,76.65],"nice":false,"zero":false},"axis":{"values":[0,15,30,45,60,75],"title":"Time (in Minutes)"}},"y":{"field":"v","type":"quantitative","scale":{"domain":[0,1],"nice":false},"axis":{"values":[0,0.2,0.4,0.6,0.8,1],"format":".1f","title":"Utilization Ratio"}},"color":{"field":"s","type":"nominal","scale":{"domain":["b","g","y","r"],"range":["#4472d8","#3d9e4d","#ffc20e","#cd5c5c"]},"legend":null},"strokeDash":{"field":"s","type":"nominal","scale":{"domain":["b","g","y","r"],"range":[[5.5,2.4],[9.6,2.4,1.5,2.4],[1,0],[1,0]]},"legend":null}}},
 {"data":{"name":"m1"},"mark":{"type":"rule","strokeWidth":1.3,"opacity":0.6},"encoding":{"y":{"field":"v","type":"quantitative"},"color":{"field":"s","type":"nominal","legend":null},"strokeDash":{"field":"s","type":"nominal","legend":null}}}
]},
{"title":"Delivery Load = 10 | Dataset 3","width":420,"height":310,"layer":[
 {"data":{"name":"p2"},"transform":[{"fold":["b","g","y","r"],"as":["s","v"]},{"filter":"datum.v != null"}],"mark":{"type":"line","strokeWidth":1.5},"encoding":{"x":{"field":"t","type":"quantitative","scale":{"domain":[-3.65,76.65],"nice":false,"zero":false},"axis":{"values":[0,15,30,45,60,75],"title":"Time (in Minutes)"}},"y":{"field":"v","type":"quantitative","scale":{"domain":[0,1],"nice":false},"axis":{"values":[0,0.2,0.4,0.6,0.8,1],"format":".1f","title":"Utilization Ratio"}},"color":{"field":"s","type":"nominal","scale":{"domain":["b","g","y","r"],"range":["#4472d8","#3d9e4d","#ffc20e","#cd5c5c"]},"legend":null},"strokeDash":{"field":"s","type":"nominal","scale":{"domain":["b","g","y","r"],"range":[[5.5,2.4],[9.6,2.4,1.5,2.4],[1,0],[1,0]]},"legend":null}}},
 {"data":{"name":"m2"},"mark":{"type":"rule","strokeWidth":1.3,"opacity":0.6},"encoding":{"y":{"field":"v","type":"quantitative"},"color":{"field":"s","type":"nominal","legend":null},"strokeDash":{"field":"s","type":"nominal","legend":null}}}
]},
{"title":"Delivery Load = 20 | Dataset 4","width":420,"height":310,"layer":[
 {"data":{"name":"p3"},"transform":[{"fold":["b","g","y","r"],"as":["s","v"]},{"filter":"datum.v != null"}],"mark":{"type":"line","strokeWidth":1.5},"encoding":{"x":{"field":"t","type":"quantitative","scale":{"domain":[-3.65,76.65],"nice":false,"zero":false},"axis":{"values":[0,15,30,45,60,75],"title":"Time (in Minutes)"}},"y":{"field":"v","type":"quantitative","scale":{"domain":[0,1],"nice":false},"axis":{"values":[0,0.2,0.4,0.6,0.8,1],"format":".1f","title":"Utilization Ratio"}},"color":{"field":"s","type":"nominal","scale":{"domain":["b","g","y","r"],"range":["#4472d8","#3d9e4d","#ffc20e","#cd5c5c"]},"legend":null},"strokeDash":{"field":"s","type":"nominal","scale":{"domain":["b","g","y","r"],"range":[[5.5,2.4],[9.6,2.4,1.5,2.4],[1,0],[1,0]]},"legend":null}}},
 {"data":{"name":"m3"},"mark":{"type":"rule","strokeWidth":1.3,"opacity":0.6},"encoding":{"y":{"field":"v","type":"quantitative"},"color":{"field":"s","type":"nominal","legend":null},"strokeDash":{"field":"s","type":"nominal","legend":null}}}
]},
{"title":"Delivery Load = 25 | Dataset 2","width":420,"height":310,"layer":[
 {"data":{"name":"p4"},"transform":[{"fold":["b","g","y","r"],"as":["s","v"]},{"filter":"datum.v != null"}],"mark":{"type":"line","strokeWidth":1.5},"encoding":{"x":{"field":"t","type":"quantitative","scale":{"domain":[-3.65,76.65],"nice":false,"zero":false},"axis":{"values":[0,15,30,45,60,75],"title":"Time (in Minutes)"}},"y":{"field":"v","type":"quantitative","scale":{"domain":[0,1],"nice":false},"axis":{"values":[0,0.2,0.4,0.6,0.8,1],"format":".1f","title":"Utilization Ratio"}},"color":{"field":"s","type":"nominal","scale":{"domain":["b","g","y","r"],"range":["#4472d8","#3d9e4d","#ffc20e","#cd5c5c"]},"legend":null},"strokeDash":{"field":"s","type":"nominal","scale":{"domain":["b","g","y","r"],"range":[[5.5,2.4],[9.6,2.4,1.5,2.4],[1,0],[1,0]]},"legend":null}}},
 {"data":{"name":"m4"},"mark":{"type":"rule","strokeWidth":1.3,"opacity":0.6},"encoding":{"y":{"field":"v","type":"quantitative"},"color":{"field":"s","type":"nominal","legend":null},"strokeDash":{"field":"s","type":"nominal","legend":null}}}
]},
{"title":"Delivery Load = 30 | Dataset 3","width":420,"height":310,"layer":[
 {"data":{"name":"p5"},"transform":[{"fold":["b","g","y","r"],"as":["s","v"]},{"filter":"datum.v != null"}],"mark":{"type":"line","strokeWidth":1.5},"encoding":{"x":{"field":"t","type":"quantitative","scale":{"domain":[-3.65,76.65],"nice":false,"zero":false},"axis":{"values":[0,15,30,45,60,75],"title":"Time (in Minutes)"}},"y":{"field":"v","type":"quantitative","scale":{"domain":[0,1],"nice":false},"axis":{"values":[0,0.2,0.4,0.6,0.8,1],"format":".1f","title":"Utilization Ratio"}},"color":{"field":"s","type":"nominal","scale":{"domain":["b","g","y","r"],"range":["#4472d8","#3d9e4d","#ffc20e","#cd5c5c"]},"legend":null},"strokeDash":{"field":"s","type":"nominal","scale":{"domain":["b","g","y","r"],"range":[[5.5,2.4],[9.6,2.4,1.5,2.4],[1,0],[1,0]]},"legend":null}}},
 {"data":{"name":"m5"},"mark":{"type":"rule","strokeWidth":1.3,"opacity":0.6},"encoding":{"y":{"field":"v","type":"quantitative"},"color":{"field":"s","type":"nominal","legend":null},"strokeDash":{"field":"s","type":"nominal","legend":null}}}
]}
]
}
